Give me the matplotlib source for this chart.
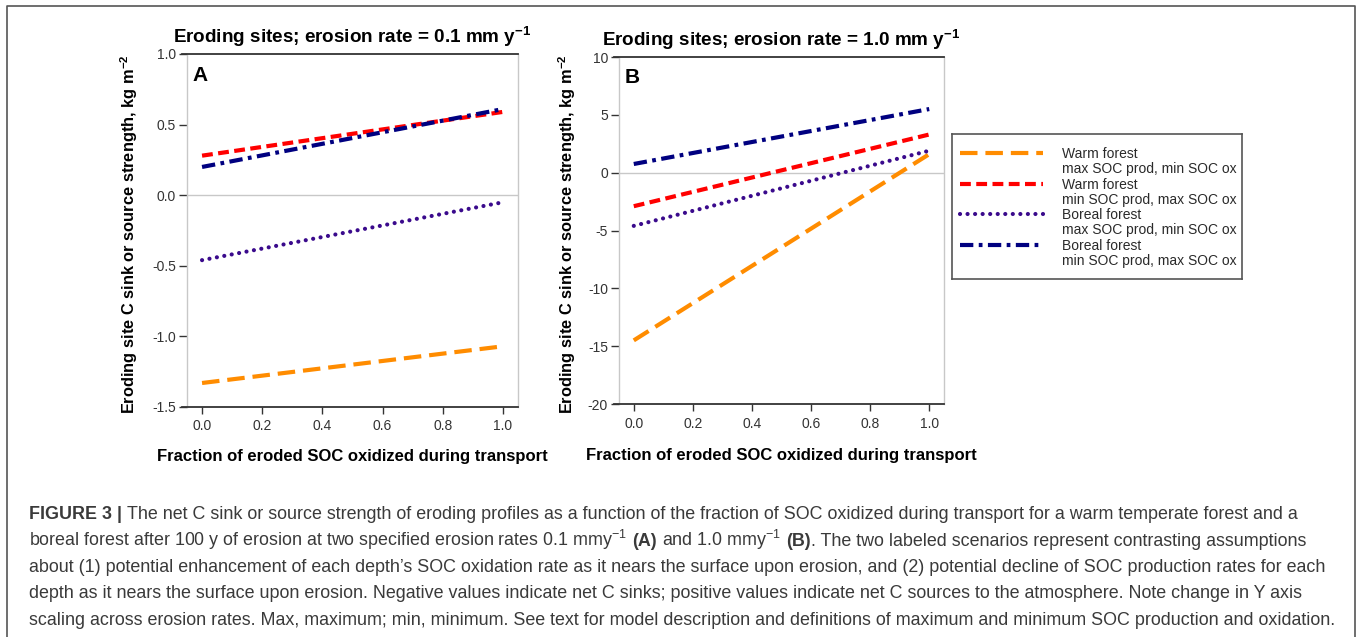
import numpy as np
import matplotlib
matplotlib.use('Agg')
import matplotlib.pyplot as plt
from matplotlib.ticker import FormatStrFormatter
from matplotlib.lines import Line2D

plt.rcParams['font.family'] = ['Liberation Sans', 'DejaVu Sans']
plt.rcParams['mathtext.fontset'] = 'custom'
plt.rcParams['mathtext.rm'] = 'Liberation Sans'
plt.rcParams['mathtext.bf'] = 'Liberation Sans:bold'
plt.rcParams['mathtext.it'] = 'Liberation Sans:italic'
plt.rcParams['axes.unicode_minus'] = False

# fraction of eroded SOC oxidized during transport
frac = [0.0, 1.0]

# panel A, erosion rate 0.1 mm/y
a_warm_max = [-1.33, -1.07]
a_warm_min = [0.28, 0.59]
a_boreal_max = [-0.46, -0.05]
a_boreal_min = [0.20, 0.61]

# panel B, erosion rate 1.0 mm/y
b_warm_max = [-14.5, 1.6]
b_warm_min = [-2.9, 3.3]
b_boreal_max = [-4.6, 1.9]
b_boreal_min = [0.75, 5.5]

labels = [('Warm forest', 'max SOC prod, min SOC ox'),
          ('Warm forest', 'min SOC prod, max SOC ox'),
          ('Boreal forest', 'max SOC prod, min SOC ox'),
          ('Boreal forest', 'min SOC prod, max SOC ox')]

styles = [dict(color='#ff8c00', lw=3, dashes=(4.2, 1.9)),
          dict(color='#ff0000', lw=3, dashes=(2.6, 1.3)),
          dict(color='#3a0a8c', lw=3, dashes=(0.01, 1.8), dash_capstyle='round'),
          dict(color='#000080', lw=3, dashes=(3.2, 1.3, 0.9, 1.3))]

dark = '#333333'
light = '#c8c8c8'

fig = plt.figure(figsize=(13.58, 6.37), dpi=100)
fig.patch.set_facecolor('white')

ax_a = fig.add_axes([187/1358, 1-407/637, 331/1358, 353/637])
ax_b = fig.add_axes([619/1358, 1-404/637, 325/1358, 347/637])


def style_axes(ax, ylim, yticks, yfmt, title, letter, ylab_x, xlab_y):
    ax.set_xlim(-0.05, 1.05)
    ax.set_ylim(*ylim)
    ax.axhline(0, color=light, lw=1, zorder=1)
    ax.set_xticks([0, 0.2, 0.4, 0.6, 0.8, 1.0])
    ax.set_yticks(yticks)
    ax.xaxis.set_major_formatter(FormatStrFormatter('%.1f'))
    ax.yaxis.set_major_formatter(FormatStrFormatter(yfmt))
    ax.tick_params(axis='x', direction='out', length=5, width=1, color=dark,
                   labelcolor=dark, labelsize=10, pad=4)
    ax.tick_params(axis='y', direction='out', length=6, width=1, color=dark,
                   labelcolor=dark, labelsize=10, pad=2)
    for s in ['left', 'right']:
        ax.spines[s].set_color(light)
        ax.spines[s].set_linewidth(1)
    for s in ['top', 'bottom']:
        ax.spines[s].set_color(dark)
        ax.spines[s].set_linewidth(1.3)
        ax.spines[s].set_bounds(-0.067, 1.05)
    ax.set_title(title, fontsize=13.6, fontweight='bold', pad=8)
    ax.set_ylabel('Eroding site C sink or source strength, kg m$^{\\mathbf{-2}}$',
                  fontsize=11.8, fontweight='bold')
    ax.yaxis.set_label_coords(ylab_x, 0.49)
    ax.set_xlabel('Fraction of eroded SOC oxidized during transport',
                  fontsize=12, fontweight='bold')
    ax.xaxis.set_label_coords(0.5, xlab_y)
    ax.xaxis.label.set_va('top')
    ax.text(0.018, 0.94, letter, transform=ax.transAxes, fontsize=15,
            fontweight='bold', va='center', ha='left')


style_axes(ax_a, (-1.5, 1.0), [-1.5, -1.0, -0.5, 0.0, 0.5, 1.0], '%.1f',
           'Eroding sites; erosion rate = 0.1 mm y$^{\\mathbf{-1}}$', 'A', -0.142, -0.118)
style_axes(ax_b, (-20, 10), [-20, -15, -10, -5, 0, 5, 10], '%d',
           'Eroding sites; erosion rate = 1.0 mm y$^{\\mathbf{-1}}$', 'B', -0.126, -0.127)

for ys, st in zip([a_warm_max, a_warm_min, a_boreal_max, a_boreal_min], styles):
    ax_a.plot(frac, ys, zorder=3, **st)
for ys, st in zip([b_warm_max, b_warm_min, b_boreal_max, b_boreal_min], styles):
    ax_b.plot(frac, ys, zorder=3, **st)

# legend box drawn by hand so the sample line sits on the first text line
lax = fig.add_axes([952/1358, 1-279/637, 290/1358, 145/637])
lax.set_xlim(0, 290)
lax.set_ylim(145, 0)
lax.set_xticks([])
lax.set_yticks([])
for s in lax.spines.values():
    s.set_color('#555555')
    s.set_linewidth(1.2)
for i, ((l1, l2), st) in enumerate(zip(labels, styles)):
    y = 19 + i * 30.7
    lax.add_line(Line2D([8, 91], [y, y], **st))
    lax.text(110, y + 5, l1, fontsize=10, va='baseline', ha='left', color='#2a2a2a')
    lax.text(110, y + 20, l2, fontsize=10, va='baseline', ha='left', color='#2a2a2a')

# outer frame of the figure panel
W, H = 1358, 637
fig.add_artist(Line2D([7/W, 7/W, 1355/W, 1355/W], [-0.01, 1-6/H, 1-6/H, -0.01],
                      color='#555555', lw=1.2))

# caption, written run by run so bold parts and superscripts sit inline
cap_size = 12.9
cap_color = '#3a3a3a'
caption = [
    [('FIGURE 3 | ', 'bold'),
     ('The net C sink or source strength of eroding profiles as a function of the fraction of SOC oxidized during transport for a warm temperate forest and a', 'normal')],
    [('boreal forest after 100 y of erosion at two specified erosion rates 0.1 mmy$^{-1}$ ', 'normal'),
     ('(A)', 'bold'), (' and 1.0 mmy$^{-1}$ ', 'normal'), ('(B)', 'bold'),
     ('. The two labeled scenarios represent contrasting assumptions', 'normal')],
    [('about (1) potential enhancement of each depth\u2019s SOC oxidation rate as it nears the surface upon erosion, and (2) potential decline of SOC production rates for each', 'normal')],
    [('depth as it nears the surface upon erosion. Negative values indicate net C sinks; positive values indicate net C sources to the atmosphere. Note change in Y axis', 'normal')],
    [('scaling across erosion rates. Max, maximum; min, minimum. See text for model description and definitions of maximum and minimum SOC production and oxidation.', 'normal')],
]
cap_base = [519, 545.5, 572, 598.5, 625]

renderer = fig.canvas.get_renderer()


def width_px(s, weight):
    t = fig.text(0, 0, s, fontsize=cap_size, fontweight=weight)
    w = t.get_window_extent(renderer).width
    t.remove()
    return w


space = {w: width_px('a a', w) - width_px('aa', w) for w in ['normal', 'bold']}

for runs, yb in zip(caption, cap_base):
    x = 29.0
    for s, w in runs:
        lead = len(s) - len(s.lstrip(' '))
        trail = len(s) - len(s.rstrip(' '))
        core = s.strip(' ')
        x += lead * space[w]
        t = fig.text(x / W, 1 - yb / H, core, fontsize=cap_size, fontweight=w,
                     color=cap_color, va='baseline', ha='left')
        x += t.get_window_extent(renderer).width + trail * space[w]

fig.savefig('out.png', dpi=100, facecolor='white')
